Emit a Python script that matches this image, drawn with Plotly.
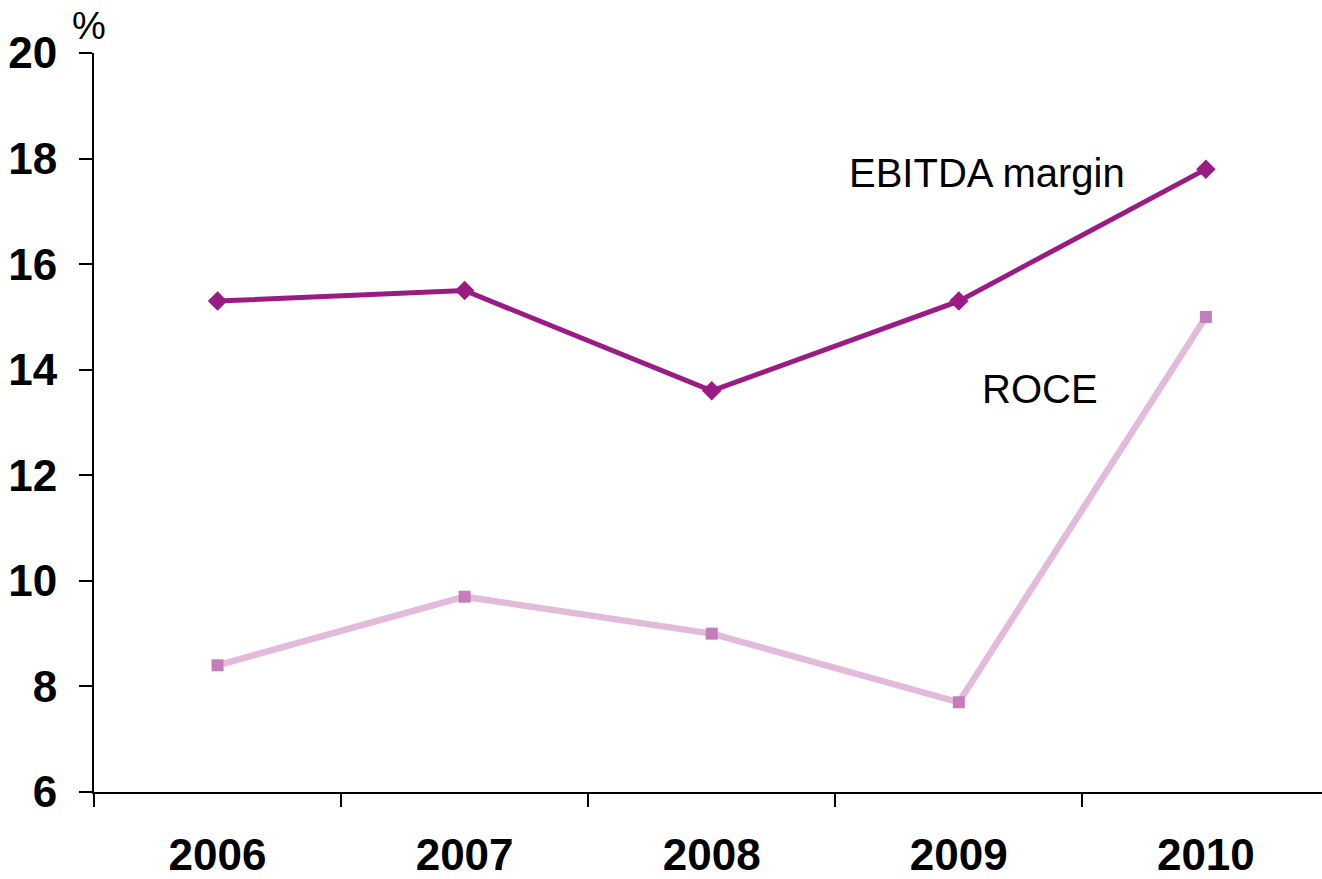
import plotly.graph_objects as go

years = ["2006", "2007", "2008", "2009", "2010"]
ebitda_margin = [15.3, 15.5, 13.6, 15.3, 17.8]
roce = [8.4, 9.7, 9.0, 7.7, 15.0]
y_ticks = [6, 8, 10, 12, 14, 16, 18, 20]

FONT = "Liberation Sans, Arial, sans-serif"

fig = go.Figure()
fig.add_trace(go.Scatter(
    x=years, y=roce, mode="lines+markers", name="ROCE",
    line=dict(color="#E2BBDB", width=6.5),
    marker=dict(symbol="square", size=12, color="#C47DBB"),
))
fig.add_trace(go.Scatter(
    x=years, y=ebitda_margin, mode="lines+markers", name="EBITDA margin",
    line=dict(color="#9B1B85", width=5),
    marker=dict(symbol="diamond", size=15, color="#9B1B85"),
))

fig.update_layout(
    width=1322, height=879,
    margin=dict(l=94, r=0, t=53, b=84),
    plot_bgcolor="white", paper_bgcolor="white",
    showlegend=False,
    font=dict(family=FONT, color="black"),
    xaxis=dict(
        type="category", range=[-0.5, 4.47],
        showline=True, linecolor="black", linewidth=2,
        ticks="outside", tickson="boundaries", ticklen=13, tickwidth=2, tickcolor="black",
        showgrid=False, zeroline=False,
        tickfont=dict(family=FONT, size=44, color="black", weight="bold"),
        ticklabelstandoff=23,
    ),
    yaxis=dict(
        range=[6, 20], tickvals=y_ticks,
        showline=True, linecolor="black", linewidth=2,
        ticks="outside", ticklen=13, tickwidth=2, tickcolor="black",
        showgrid=False, zeroline=False,
        tickfont=dict(family=FONT, size=44, color="black", weight="bold"),
        ticklabelstandoff=13,
    ),
    annotations=[
        dict(text="%", xref="paper", yref="paper", x=-0.004, y=1.0, xanchor="center", yanchor="bottom",
             showarrow=False, font=dict(family=FONT, size=38, color="black"), yshift=4),
        dict(text="EBITDA margin", xref="x", yref="y", x=3.113, y=17.72, xanchor="center", yanchor="middle",
             showarrow=False, font=dict(family=FONT, size=40, color="black")),
        dict(text="ROCE", xref="x", yref="y", x=3.33, y=13.64, xanchor="center", yanchor="middle",
             showarrow=False, font=dict(family=FONT, size=40, color="black")),
    ],
)

fig.write_html(
    "out.html",
    config={"displayModeBar": False},
    post_script="document.body.style.margin='0';document.body.style.overflow='hidden';",
)
